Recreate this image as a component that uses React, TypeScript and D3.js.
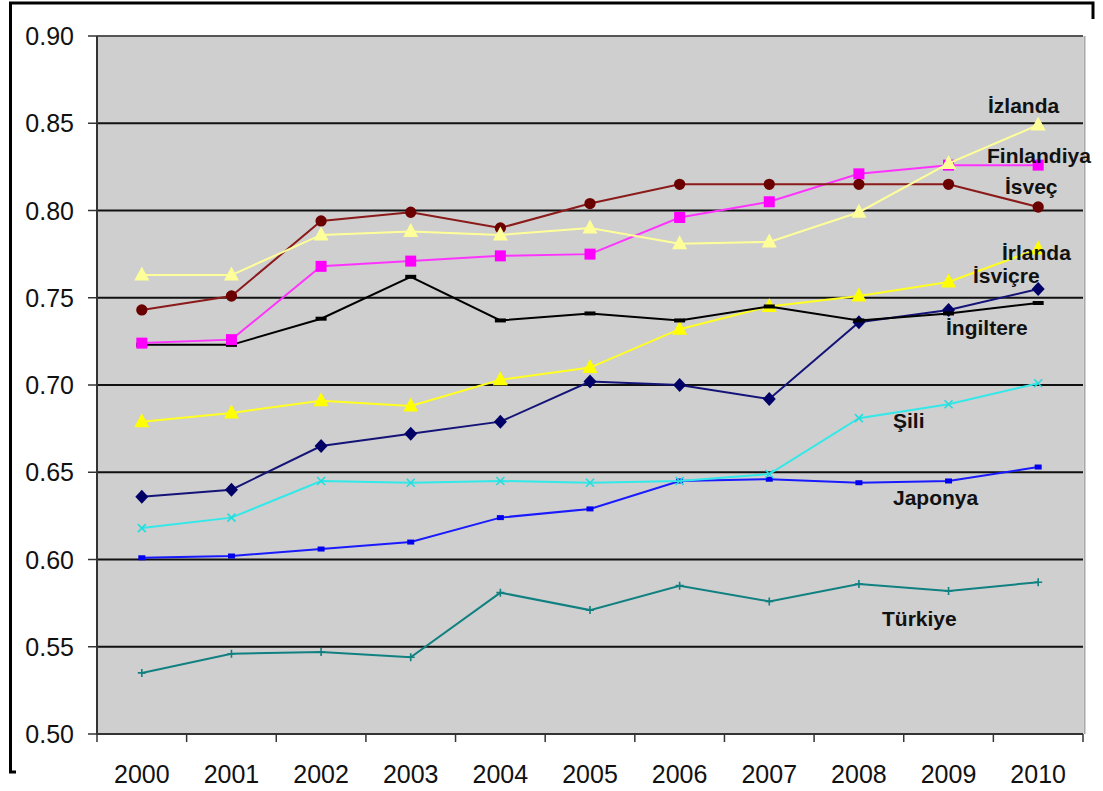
import React from "react";
import * as d3 from "d3";

const years = ["2000","2001","2002","2003","2004","2005","2006","2007","2008","2009","2010"];
const yTicks = [0.5, 0.55, 0.6, 0.65, 0.7, 0.75, 0.8, 0.85, 0.9];

const izlanda = [0.763,0.763,0.786,0.788,0.786,0.790,0.781,0.782,0.799,0.827,0.849];
const isvec = [0.743,0.751,0.794,0.799,0.790,0.804,0.815,0.815,0.815,0.815,0.802];
const finlandiya = [0.724,0.726,0.768,0.771,0.774,0.775,0.796,0.805,0.821,0.826,0.826];
const ingiltere = [0.723,0.723,0.738,0.762,0.737,0.741,0.737,0.745,0.737,0.741,0.747];
const irlanda = [0.679,0.684,0.691,0.688,0.703,0.710,0.732,0.745,0.751,0.759,0.778];
const isvicre = [0.636,0.640,0.665,0.672,0.679,0.702,0.700,0.692,0.736,0.743,0.755];
const sili = [0.618,0.624,0.645,0.644,0.645,0.644,0.645,0.649,0.681,0.689,0.701];
const japonya = [0.601,0.602,0.606,0.610,0.624,0.629,0.645,0.646,0.644,0.645,0.653];
const turkiye = [0.535,0.546,0.547,0.544,0.581,0.571,0.585,0.576,0.586,0.582,0.587];

type Series = { name: string; values: number[]; color: string; marker: string; mcolor: string; lx: number; ly: number };

const series: Series[] = [
  { name: "Türkiye", values: turkiye, color: "#108080", marker: "plus", mcolor: "#108080", lx: 882, ly: 626 },
  { name: "Japonya", values: japonya, color: "#1a1aff", marker: "smallsq", mcolor: "#0000ee", lx: 893, ly: 505 },
  { name: "Şili", values: sili, color: "#33e8e8", marker: "x", mcolor: "#22dddd", lx: 893, ly: 428 },
  { name: "İsviçre", values: isvicre, color: "#141478", marker: "diamond", mcolor: "#000066", lx: 973, ly: 283 },
  { name: "İrlanda", values: irlanda, color: "#ffff22", marker: "triangle", mcolor: "#ffff00", lx: 1002, ly: 260 },
  { name: "İngiltere", values: ingiltere, color: "#000000", marker: "dash", mcolor: "#000000", lx: 946, ly: 335 },
  { name: "Finlandiya", values: finlandiya, color: "#ff33ff", marker: "square", mcolor: "#ff00ff", lx: 987, ly: 163 },
  { name: "İsveç", values: isvec, color: "#8b1a1a", marker: "circle", mcolor: "#6b0000", lx: 1005, ly: 194 },
  { name: "İzlanda", values: izlanda, color: "#ffff99", marker: "triangle", mcolor: "#ffff99", lx: 988, ly: 113 },
];

const W = 1103, H = 791;
const left = 97, right = 1083, top = 36, bottom = 734;

function markerPath(kind: string): string {
  switch (kind) {
    case "triangle": return "M0,-8.5 L7.5,5.5 L-7.5,5.5 Z";
    case "circle": return d3.symbol(d3.symbolCircle, 100)() as string;
    case "square": return "M-5.5,-5.5 H5.5 V5.5 H-5.5 Z";
    case "diamond": return "M0,-7 L6.5,0 L0,7 L-6.5,0 Z";
    case "smallsq": return "M-3.5,-2.5 H3.5 V2.5 H-3.5 Z";
    case "dash": return "M-5.5,-2 H5.5 V2 H-5.5 Z";
    default: return "";
  }
}

export default function App() {
  const x = d3.scaleBand<string>().domain(years).range([left, right]);
  const cx = (i: number) => (x(years[i]) as number) + x.bandwidth() / 2;
  const y = d3.scaleLinear().domain([0.5, 0.9]).range([bottom, top]);
  const line = d3.line<number>().x((_, i) => cx(i)).y((v) => y(v));
  const font = "Arial, 'Liberation Sans', sans-serif";

  return (
    <svg width={W} height={H} style={{ position: "absolute", left: 0, top: 0, background: "#fff" }}>
      <path d={`M1093,19 V3 H10.5 V772 H16`} fill="none" stroke="#000" strokeWidth={3} />
      <rect x={left} y={top} width={right - left} height={bottom - top} fill="#cfcfcf" />
      <line x1={right + 1.5} x2={right + 1.5} y1={top} y2={bottom} stroke="#a8a8a8" strokeWidth={2} />
      {yTicks.map((t) => (
        <g key={t}>
          {t > 0.5 && t < 0.9 && (
            <line x1={left} x2={right} y1={y(t)} y2={y(t)} stroke="#111" strokeWidth={2} />
          )}
          <line x1={88} x2={left} y1={y(t)} y2={y(t)} stroke="#333" strokeWidth={1.5} />
          <text x={74} y={y(t)} dy="0.36em" textAnchor="end" fontFamily={font} fontSize={25} fill="#111">
            {t.toFixed(2)}
          </text>
        </g>
      ))}
      <line x1={left} x2={right} y1={top} y2={top} stroke="#555" strokeWidth={2} />
      <line x1={left} x2={left} y1={top} y2={bottom} stroke="#333" strokeWidth={2} />
      <line x1={left} x2={right} y1={bottom} y2={bottom} stroke="#333" strokeWidth={2} />
      {years.map((yr, i) => (
        <g key={yr}>
          <line x1={x(yr) as number} x2={x(yr) as number} y1={bottom} y2={bottom + 8} stroke="#333" strokeWidth={1.5} />
          <text x={cx(i)} y={783} textAnchor="middle" fontFamily={font} fontSize={25} fill="#111">{yr}</text>
        </g>
      ))}
      <line x1={right} x2={right} y1={bottom} y2={bottom + 8} stroke="#333" strokeWidth={1.5} />

      {series.map((s) => (
        <g key={s.name}>
          <path d={line(s.values) as string} fill="none" stroke={s.color} strokeWidth={2} />
          {s.values.map((v, i) => {
            const px = cx(i), py = y(v);
            if (s.marker === "plus") {
              return (
                <path key={i} transform={`translate(${px},${py})`} d="M-4,0 H4 M0,-4 V4" stroke={s.mcolor} strokeWidth={1.6} />
              );
            }
            if (s.marker === "x") {
              return (
                <path key={i} transform={`translate(${px},${py})`} d="M-4,-4 L4,4 M-4,4 L4,-4" stroke={s.mcolor} strokeWidth={1.6} />
              );
            }
            return <path key={i} transform={`translate(${px},${py})`} d={markerPath(s.marker)} fill={s.mcolor} />;
          })}
        </g>
      ))}

      {series.map((s) => (
        <text key={"l" + s.name} x={s.lx} y={s.ly} fontFamily={font} fontWeight="bold" fontSize={21} fill="#111">
          {s.name}
        </text>
      ))}
    </svg>
  );
}
